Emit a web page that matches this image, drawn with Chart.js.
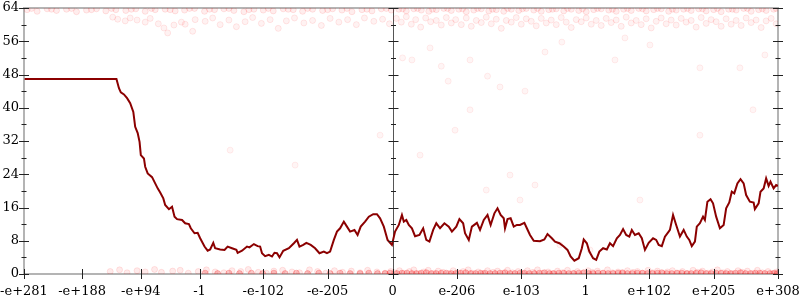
<!DOCTYPE html>
<html>
<head>
<meta charset="utf-8">
<script src="https://cdn.jsdelivr.net/npm/chart.js@4/dist/chart.umd.min.js"></script>
<style>
  html, body { margin: 0; padding: 0; background: #fff; }
  canvas { display: block; }
</style>
</head>
<body>
<canvas id="c" width="800" height="300"></canvas>
<script>
// ---- axis ticks ----
const xTickValues = [-590, -497, -403, -309, -207, -104, 0, 103, 206, 309, 411, 514, 617];
const xTickLabels = ['-e+281', '-e+188', '-e+94', '-1', '-e-102', '-e-205', '0', 'e-206', 'e-103', '1', 'e+102', 'e+205', 'e+308'];
const yTickValues = [0, 8, 16, 24, 32, 40, 48, 56, 64];
const yMinorTickValues = [4, 12, 20, 28, 36, 44, 52, 60];

// ---- main line series ----
const lineX = [-589,-442,-438,-435,-430,-425,-420,-415,-412,-408,-405,-403,-398,-396,-392,-385,-380,-376,-372,-367,-364,-358,-353,-349,-345,-337,-332,-326,-323,-317,-312,-308,-301,-296,-292,-287,-284,-276,-269,-264,-257,-250,-248,-241,-233,-229,-222,-216,-212,-209,-204,-198,-193,-189,-185,-181,-175,-166,-158,-153,-149,-143,-138,-131,-124,-117,-110,-105,-100,-94,-89,-84,-78,-73,-68,-61,-56,-51,-44,-38,-31,-25,-20,-14,-8,-1,4,10,15,18,22,26,31,36,43,49,54,59,65,70,76,83,90,95,102,107,113,116,122,127,135,140,146,152,157,163,168,173,178,180,184,189,194,199,204,211,215,220,226,236,243,248,255,260,267,274,280,285,291,298,303,306,311,315,321,326,331,337,343,348,353,359,364,369,374,379,383,388,394,399,404,410,417,422,426,431,436,442,444,449,454,460,466,471,475,479,484,487,492,497,500,504,509,513,518,524,530,534,539,543,547,552,557,562,566,572,578,580,586,589,594,598,602,605,610,614,617];
const lineY = [46.9,46.9,44.7,43.7,43.2,42.3,41.1,39.0,35.4,33.9,31.8,28.6,27.8,25.8,24.2,23.3,21.8,20.6,19.6,18.2,16.6,15.6,16.2,13.8,13.2,13.0,12.2,12.0,11.0,9.8,9.9,8.6,6.6,5.6,5.9,7.5,6.2,5.9,5.8,6.6,6.2,5.8,5.1,5.6,6.6,6.4,7.2,6.7,6.6,5.0,4.3,4.6,4.2,5.1,5.0,4.0,5.6,6.2,7.4,8.2,6.6,7.0,7.5,7.0,6.2,5.0,5.4,5.0,5.4,8.2,10.2,11.0,12.6,11.4,10.2,10.6,9.4,11.4,12.6,13.8,14.4,14.4,13.4,11.4,8.2,7.0,10.2,11.8,14.2,12.6,13.0,11.8,11.0,9.1,9.4,11.0,8.2,7.8,10.6,12.2,11.0,12.2,11.4,10.2,11.4,13.2,12.2,9.8,8.2,11.4,12.3,10.6,13.0,14.2,11.8,14.6,15.8,14.2,13.4,11.0,13.2,13.4,11.4,11.8,11.8,12.3,11.0,9.4,8.0,7.9,8.3,9.6,8.6,7.8,7.4,6.6,5.8,4.2,3.2,3.8,6.2,8.3,7.4,5.4,3.8,3.4,5.4,6.2,5.9,7.4,6.7,8.6,9.4,10.8,9.4,9.0,10.6,9.4,9.8,8.6,5.8,7.5,8.6,8.2,7.0,6.7,9.0,10.2,10.6,14.2,11.8,9.0,10.6,9.0,8.2,6.7,7.8,11.4,12.2,13.8,13.0,17.4,18.0,17.0,13.8,11.0,11.8,15.8,17.2,19.8,19.4,21.8,22.8,21.8,19.0,17.4,17.2,15.6,17.0,19.8,20.6,23.0,21.2,22.2,20.6,21.4,21.2];

// ---- faint raw samples (x, y) ----
const topBandDots = [[-585,63.6],[-569,63.2],[-553,63.8],[-538,63.4],[-522,63.7],[-506,63.1],[-490,63.5],[-474,63.8],[-459,63.3],[-443,63.6],[-427,63.4],[-411,63.8],[-396,63.2],[-380,63.6],[-364,63.7],[-348,63.3],[-333,63.5],[-317,63.9],[-301,63.2],[-285,63.6],[-270,63.8],[-254,63.4],[-238,63.1],[-222,63.7],[-207,63.5],[-191,63.3],[-175,63.8],[-159,63.6],[-144,63.2],[-128,63.7],[-112,63.4],[-96,63.8],[-81,63.5],[-65,63.1],[-49,63.6],[-33,63.3],[-18,63.8],[-2,63.5],[10,63.7],[22,63.3],[34,63.8],[46,63.5],[58,63.2],[70,63.6],[82,63.9],[94,63.4],[106,63.7],[118,63.1],[130,63.5],[142,63.8],[154,63.3],[166,63.6],[178,63.2],[190,63.7],[202,63.4],[214,63.9],[226,63.5],[238,63.2],[250,63.6],[262,63.8],[274,63.3],[286,63.7],[298,63.4],[310,63.1],[322,63.6],[334,63.8],[346,63.5],[358,63.2],[370,63.7],[382,63.4],[394,63.9],[406,63.3],[418,63.6],[430,63.8],[442,63.2],[454,63.5],[466,63.7],[478,63.4],[490,63.8],[502,63.3],[514,63.6],[526,63.1],[538,63.7],[550,63.5],[562,63.9],[574,63.2],[586,63.6],[598,63.4],[610,63.7],
[-578,63.9],[-546,63.7],[-514,63.9],[-482,63.6],[-450,63.9],[-418,63.7],[-386,63.9],[-356,63.6],[-325,63.9],[-293,63.7],[-262,63.9],[-230,63.6],[-199,63.9],[-167,63.7],[-136,63.9],[-104,63.6],[-73,63.9],[-41,63.7],[-10,63.9],[16,63.8],[40,63.9],[64,63.7],[88,63.9],[112,63.8],[136,63.9],[160,63.7],[184,63.9],[208,63.8],[232,63.9],[256,63.7],[280,63.9],[304,63.8],[328,63.9],[352,63.7],[376,63.9],[400,63.8],[424,63.9],[448,63.7],[472,63.9],[496,63.8],[520,63.9],[544,63.7],[568,63.9],[592,63.8],[614,63.9]];
const topScatterDots = [[-448,61.8],[-440,61.3],[-428,60.9],[-420,61.6],[-409,61.1],[-396,60.6],[-388,61.5],[-375,60.2],[-366,59.2],[-360,58.0],[-350,59.9],[-338,60.6],[-332,60.1],[-320,58.4],[-316,61.2],[-300,60.8],[-288,61.6],[-276,60.0],[-262,61.1],[-250,59.5],[-236,60.7],[-224,61.7],[-210,60.3],[-196,61.2],[-183,59.1],[-170,60.9],[-157,61.6],[-142,60.4],[-128,61.0],[-114,59.8],[-100,61.5],[-86,60.6],[-72,61.2],[-58,60.0],[-45,61.6],[-30,60.8],[-16,61.3],[-5,60.2],[6,61.5],[14,60.6],[22,61.9],[30,60.1],[37,61.2],[45,59.4],[53,61.6],[61,60.7],[70,61.0],[78,59.9],[86,61.7],[94,60.4],[101,61.2],[110,60.0],[118,61.6],[126,59.6],[134,61.0],[142,60.5],[150,61.8],[158,60.2],[166,61.3],[174,59.1],[182,61.0],[190,60.6],[198,61.7],[206,60.1],[214,61.4],[222,60.8],[230,59.7],[238,61.5],[246,60.4],[254,61.1],[262,60.0],[270,61.7],[278,60.6],[286,59.3],[294,61.2],[302,60.7],[310,61.6],[318,60.1],[326,61.0],[334,59.8],[342,61.5],[350,60.5],[358,61.1],[366,59.6],[374,61.8],[382,60.4],[390,61.0],[398,60.0],[406,61.4],[414,59.2],[422,60.8],[430,61.6],[438,60.2],[446,61.1],[454,59.9],[462,61.5],[470,60.6],[478,61.0],[486,59.4],[494,61.7],[502,60.3],[510,61.2],[518,60.7],[526,59.6],[534,61.4],[542,60.1],[550,61.0],[558,59.8],[566,61.6],[574,60.5],[582,61.1],[590,59.3],[598,60.9],[606,61.5],[614,60.2]];
const midDots = [[16,52.0],[31,51.5],[60,54.4],[78,50.0],[89,46.4],[124,51.5],[152,47.6],[172,45.0],[212,44.0],[244,53.4],[271,55.8],[356,51.5],[372,56.8],[412,55.1],[492,49.6],[556,49.6],[596,52.7],[-260,29.8],[-156,26.2],[100,34.6],[150,20.2],[188,23.8],[204,17.8],[228,21.4],[268,7.0],[316,5.8],[396,17.8],[492,33.4],[577,39.5],[44,28.6],[-20,33.4],[124,39.5]];
const bottomBandDots = [[-452,0.6],[-437,1.0],[-425,0.3],[-409,0.8],[-396,0.5],[-381,1.1],[-370,0.4],[-352,0.7],[-340,0.9],[-327,0.2],[-311,0.6],[-298,1.0],[-284,0.5],[-270,0.3],[-257,0.8],[-243,0.6],[-231,1.1],[-215,0.4],[-202,0.2],[-190,0.7],[-176,0.9],[-161,0.5],[-149,0.3],[-133,1.0],[-120,0.6],[-107,0.2],[-93,0.8],[-80,0.4],[-66,0.7],[-52,0.3],[-40,0.9],[-25,0.5],[-12,0.2],[-3,0.6],
[3,0.3],[11,0.8],[18,0.2],[27,0.6],[34,1.0],[42,0.1],[50,0.5],[57,0.9],[66,0.2],[73,0.7],[81,0.4],[90,0.1],[97,0.8],[105,0.3],[113,0.6],[121,1.0],[128,0.2],[137,0.5],[145,0.1],[152,0.8],[161,0.4],[168,0.7],[177,0.2],[184,0.9],[192,0.3],[201,0.6],[208,0.1],[216,0.8],[225,0.4],[232,1.0],[240,0.2],[249,0.5],[256,0.1],[264,0.7],[272,0.3],[280,0.9],[289,0.2],[296,0.6],[304,0.1],[313,0.8],[320,0.4],[328,0.7],[337,0.2],[344,1.0],[352,0.3],[361,0.5],[368,0.1],[376,0.8],[385,0.4],[392,0.6],[400,0.2],[409,0.9],[416,0.3],[424,0.7],[433,0.1],[440,0.5],[448,0.8],[457,0.2],[464,0.6],[472,0.1],[481,0.9],[488,0.4],[496,0.7],[505,0.2],[512,0.5],[520,1.0],[529,0.3],[536,0.6],[544,0.1],[553,0.8],[560,0.4],[568,0.7],[577,0.2],[584,0.9],[592,0.3],[601,0.6],[608,0.1],[615,0.5]];
const bottomAxisDots = [[-300,0.2],[-280,0.1],[-262,0.2],[-245,0.1],[-226,0.2],[-208,0.1],[-190,0.2],[-172,0.1],[-154,0.2],[-136,0.1],[-118,0.2],[-100,0.1],[-84,0.2],[-68,0.1],[-52,0.1],[-38,0.2],[-24,0.1],[-12,0.1],[-4,0.2],
[7,0.1],[15,0.2],[23,0.2],[31,0.1],[38,0.1],[46,0.2],[54,0.3],[62,0.1],[70,0.1],[78,0.2],[86,0.2],[94,0.1],[101,0.1],[109,0.2],[117,0.3],[125,0.1],[133,0.1],[141,0.2],[148,0.2],[156,0.1],[164,0.1],[172,0.2],[180,0.3],[188,0.1],[196,0.1],[204,0.2],[211,0.2],[219,0.1],[227,0.1],[235,0.2],[243,0.3],[251,0.1],[258,0.1],[266,0.2],[274,0.2],[282,0.1],[290,0.1],[298,0.2],[306,0.3],[314,0.1],[321,0.1],[329,0.2],[337,0.2],[345,0.1],[353,0.1],[361,0.2],[368,0.3],[376,0.1],[384,0.1],[392,0.2],[400,0.2],[408,0.1],[416,0.1],[424,0.2],[431,0.3],[439,0.1],[447,0.1],[455,0.2],[463,0.2],[471,0.1],[478,0.1],[486,0.2],[494,0.3],[502,0.1],[510,0.1],[518,0.2],[526,0.2],[534,0.1],[541,0.1],[549,0.2],[557,0.3],[565,0.1],[573,0.1],[581,0.2],[588,0.2],[596,0.1],[604,0.1],[611,0.2],[616,0.1]];

const n = Math.min(lineX.length, lineY.length);
const linePoints = [];
for (let i = 0; i < n; i++) linePoints.push({ x: lineX[i], y: lineY[i] });
const toPts = arr => arr.map(p => ({ x: p[0], y: p[1] }));

const FONT = { family: 'DejaVu Serif', size: 13 };
function dots(fill, border) {
  return {
    pointRadius: 3,
    pointBackgroundColor: fill,
    pointBorderColor: border,
    pointBorderWidth: 1,
    showLine: false
  };
}

const frame = {
  id: 'gnuplotFrame',
  beforeDatasetsDraw(chart) {
    const { ctx, chartArea: a, scales: { x } } = chart;
    ctx.save();
    ctx.strokeStyle = '#b4b4b4';
    ctx.lineWidth = 2;
    ctx.strokeRect(a.left, a.top, a.right - a.left, a.bottom - a.top);
    const cx = Math.round(x.getPixelForValue(0)) + 0.5;
    ctx.strokeStyle = '#555';
    ctx.lineWidth = 1;
    ctx.beginPath();
    ctx.moveTo(cx, a.top);
    ctx.lineTo(cx, a.bottom);
    ctx.stroke();
    ctx.restore();
  },
  afterDatasetsDraw(chart) {
    const { ctx, chartArea: a, scales: { x, y } } = chart;
    ctx.save();
    ctx.strokeStyle = '#222';
    ctx.lineWidth = 1;
    const cx = Math.round(x.getPixelForValue(0)) + 0.5;
    const cols = [a.left, cx, a.right];
    ctx.beginPath();
    yTickValues.forEach(v => {
      const py = Math.round(y.getPixelForValue(v)) + 0.5;
      cols.forEach(c => { ctx.moveTo(c - 5, py); ctx.lineTo(c + 5, py); });
    });
    yMinorTickValues.forEach(v => {
      const py = Math.round(y.getPixelForValue(v)) + 0.5;
      cols.forEach(c => { ctx.moveTo(c - 2.5, py); ctx.lineTo(c + 2.5, py); });
    });
    xTickValues.forEach(v => {
      const px = Math.round(x.getPixelForValue(v)) + 0.5;
      ctx.moveTo(px, a.bottom - 5);
      ctx.lineTo(px, a.bottom + 5);
    });
    ctx.stroke();
    ctx.restore();
  }
};

const chart = new Chart(document.getElementById('c'), {
  type: 'scatter',
  data: {
    datasets: [
      { type: 'line', data: linePoints, borderColor: '#8b0000', borderWidth: 2, pointRadius: 0, fill: false, tension: 0, showLine: true },
      Object.assign({ data: toPts(midDots) }, dots('rgba(255,0,0,0.04)', 'rgba(255,0,0,0.07)')),
      Object.assign({ data: toPts(topScatterDots) }, dots('rgba(255,0,0,0.05)', 'rgba(255,0,0,0.09)')),
      Object.assign({ data: toPts(topBandDots) }, dots('rgba(255,0,0,0.07)', 'rgba(255,0,0,0.10)')),
      Object.assign({ data: toPts(bottomBandDots) }, dots('rgba(255,0,0,0.08)', 'rgba(255,0,0,0.10)')),
      Object.assign({ data: toPts(bottomAxisDots) }, dots('rgba(240,0,0,0.22)', 'rgba(240,0,0,0.22)'))
    ]
  },
  options: {
    responsive: false,
    animation: false,
    devicePixelRatio: 1,
    layout: { padding: { left: 0, right: 22, top: 8, bottom: 0 } },
    plugins: { legend: { display: false }, tooltip: { enabled: false } },
    scales: {
      x: {
        type: 'linear',
        min: xTickValues[0],
        max: xTickValues[xTickValues.length - 1],
        afterBuildTicks: s => { s.ticks = xTickValues.map(v => ({ value: v })); },
        afterFit: s => { s.height = 26; s.paddingLeft = 0; s.paddingRight = 0; },
        ticks: {
          autoSkip: false, maxRotation: 0, minRotation: 0,
          font: FONT, color: '#000', padding: 10,
          callback: (v, i) => xTickLabels[i]
        },
        grid: { display: false, drawTicks: false },
        border: { display: false }
      },
      y: {
        type: 'linear',
        min: 0, max: 64,
        afterBuildTicks: s => { s.ticks = yTickValues.map(v => ({ value: v })); },
        afterFit: s => { s.width = 24; s.paddingTop = 0; s.paddingBottom = 0; },
        ticks: { font: FONT, color: '#000', padding: 5, callback: v => String(v) },
        grid: { display: false, drawTicks: false },
        border: { display: false }
      }
    }
  },
  plugins: [frame]
});

// nudge layout so the plot frame lands on the reference's frame
const target = { left: 24, top: 8, right: 778, bottom: 274 };
for (let k = 0; k < 3; k++) {
  const ca = chart.chartArea;
  const p = chart.options.layout.padding;
  const np = {
    left: Math.max(0, p.left + (target.left - ca.left)),
    top: Math.max(0, p.top + (target.top - ca.top)),
    right: Math.max(0, p.right + (ca.right - target.right)),
    bottom: Math.max(0, p.bottom + (ca.bottom - target.bottom))
  };
  if (np.left === p.left && np.top === p.top && np.right === p.right && np.bottom === p.bottom) break;
  chart.options.layout.padding = np;
  chart.update('none');
}
</script>
</body>
</html>
